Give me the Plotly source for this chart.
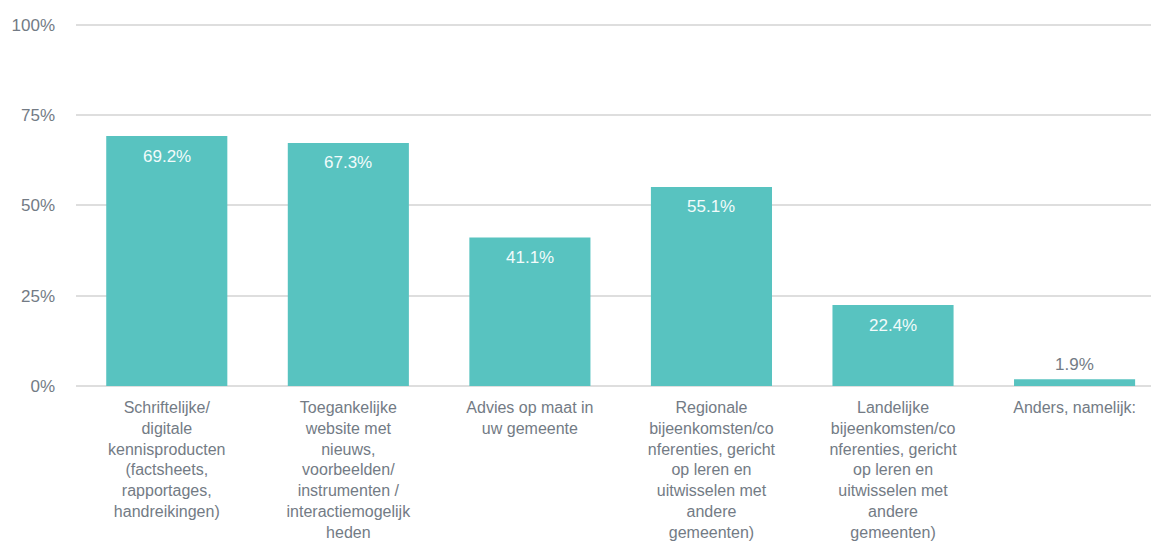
import plotly.graph_objects as go

categories = [
    "Schriftelijke/<br>digitale<br>kennisproducten<br>(factsheets,<br>rapportages,<br>handreikingen)",
    "Toegankelijke<br>website met<br>nieuws,<br>voorbeelden/<br>instrumenten /<br>interactiemogelijk<br>heden",
    "Advies op maat in<br>uw gemeente",
    "Regionale<br>bijeenkomsten/co<br>nferenties, gericht<br>op leren en<br>uitwisselen met<br>andere<br>gemeenten)",
    "Landelijke<br>bijeenkomsten/co<br>nferenties, gericht<br>op leren en<br>uitwisselen met<br>andere<br>gemeenten)",
    "Anders, namelijk:",
]
values = [69.2, 67.3, 41.1, 55.1, 22.4, 1.9]
y_ticks = [0, 25, 50, 75, 100]

BAR = "#58c3c0"
GRID = "#dedede"
TXT = "#737b85"
FONT = "Liberation Sans, Arial, sans-serif"

fig = go.Figure()
fig.add_trace(go.Bar(
    x=list(range(len(categories))), y=values,
    marker=dict(color=BAR, line=dict(width=0)),
    width=0.667, hoverinfo="skip",
))

for i, v in enumerate(values):
    inside = v >= 10
    fig.add_annotation(
        x=i, y=v, text=f"{v:.1f}%", showarrow=False,
        yanchor="middle", yshift=-20 if inside else 15,
        font=dict(family=FONT, size=17, color="#f2fbfb" if inside else TXT),
    )

# page body adds an 8px offset; figure sized to compensate
fig.update_layout(
    width=1151, height=534,
    margin=dict(l=68, r=0, t=15, b=156),
    paper_bgcolor="white", plot_bgcolor="white",
    showlegend=False,
    font=dict(family=FONT, color=TXT),
)
fig.update_xaxes(
    tickmode="array", tickvals=list(range(len(categories))), ticktext=categories,
    range=[-0.5, 5.465], automargin=False,
    tickfont=dict(family=FONT, size=16, color=TXT),
    showline=False, showgrid=False, zeroline=False, ticks="",
    ticklabelstandoff=10,
)
fig.update_yaxes(
    range=[0, 100.5], tickvals=y_ticks, ticktext=[f"{t}%" for t in y_ticks],
    automargin=False,
    tickfont=dict(family=FONT, size=17, color=TXT),
    showgrid=True, gridcolor=GRID, gridwidth=2,
    zeroline=True, zerolinecolor=GRID, zerolinewidth=2,
    showline=False, ticks="", ticklabelstandoff=20,
)

fig.write_html("out.html")
